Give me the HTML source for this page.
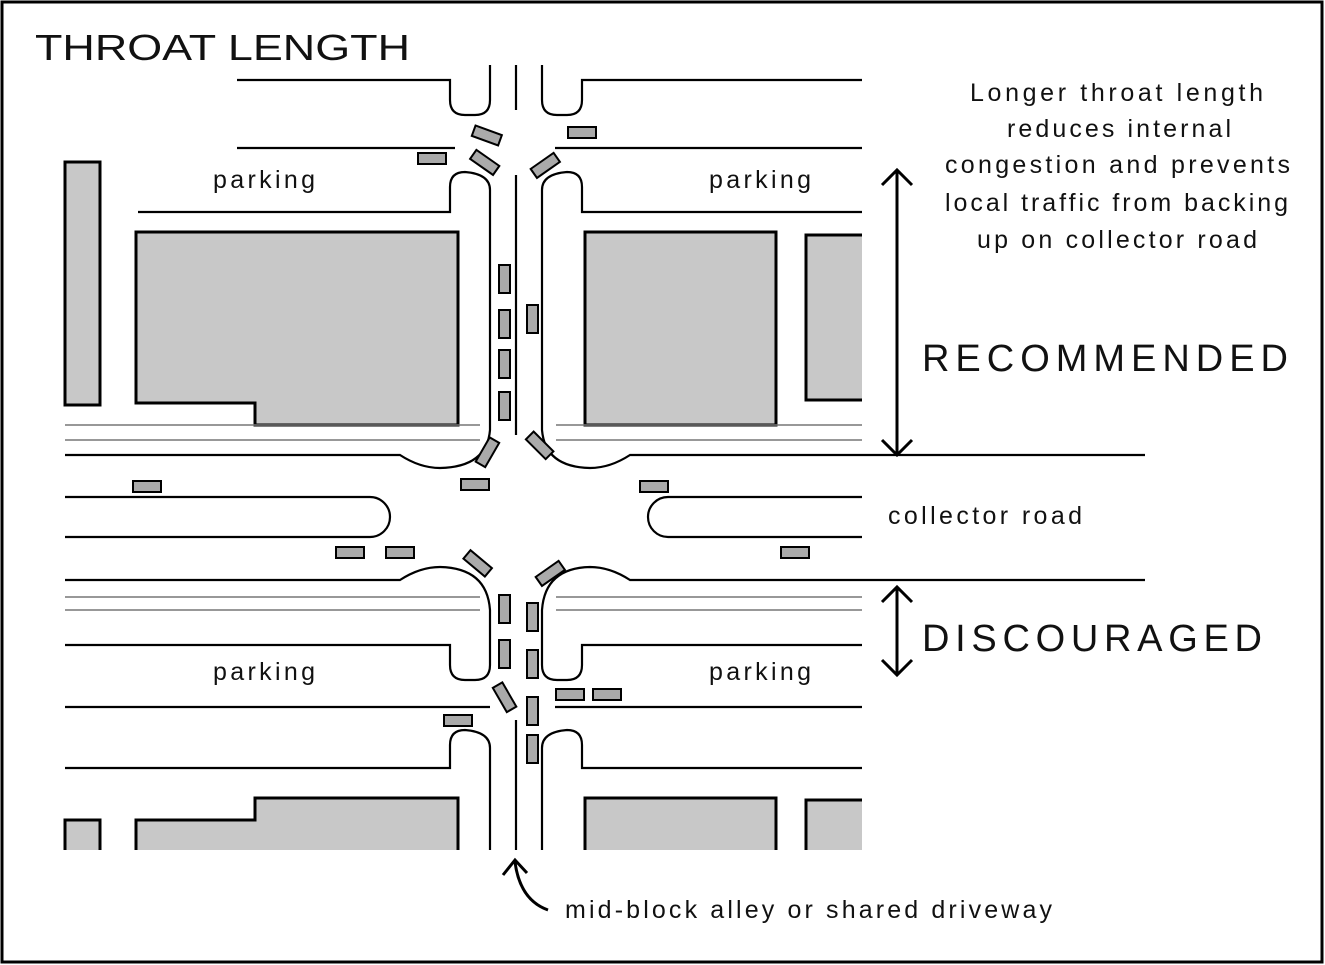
<!DOCTYPE html>
<html><head><style>
body{margin:0;background:#fff}
svg{display:block}
text{font-family:"Liberation Sans",sans-serif;fill:#111}
</style></head><body>
<svg width="1325" height="965" viewBox="0 0 1325 965">
<rect x="2" y="2" width="1320" height="960" fill="#fff" stroke="#000" stroke-width="3"/>
<text x="35" y="60" font-size="36" textLength="375" lengthAdjust="spacingAndGlyphs">THROAT LENGTH</text>

<rect x="806" y="800" width="56" height="50" fill="#c8c8c8"/>
<g fill="#c8c8c8" stroke="#000" stroke-width="3">
<rect x="65" y="162" width="35" height="243"/>
<path d="M136,232 H458 V425 H255 V403 H136 Z"/>
<rect x="585" y="232" width="191" height="193"/>
<path d="M862,235 H806 V400 H862"/>
<path d="M65,850 V820 H100 V850"/>
<path d="M136,850 V820 H255 V798 H458 V850"/>
<path d="M585,850 V798 H776 V850"/>
<path d="M806,850 V800 H862" fill="none"/>
</g>

<g fill="none" stroke="#000" stroke-width="2.2">
<path d="M237,80 H450 V100 Q450,115 465,115 H475 Q490,115 490,100 V65"/>
<path d="M862,80 H582 V100 Q582,115 567,115 H557 Q542,115 542,100 V65"/>
<path d="M516,65 V110 M516,175 V435 M516,720 V850"/>
<path d="M237,148 H455 M555,148 H862"/>
<path d="M138,212 H450 V187 Q450,172 465,172 Q490,174 490,190 V430 Q487,467 440,468 Q420,468 400,455 H65"/>
<path d="M862,212 H582 V187 Q582,172 567,172 Q542,174 542,190 V430 Q545,467 590,468 Q610,468 630,455 H1145"/>
<path d="M65,497 H370 A20,20 0 0 1 370,537 H65"/>
<path d="M862,497 H668 A20,20 0 0 0 668,537 H862"/>
<path d="M65,580 H400 Q420,567 440,567 Q487,568 490,610 V640"/>
<path d="M1145,580 H630 Q610,567 590,567 Q545,568 542,610 V640"/>
<path d="M65,645 H450 V665 Q450,680 465,680 H475 Q490,680 490,665 V640"/>
<path d="M862,645 H582 V665 Q582,680 567,680 H557 Q542,680 542,665 V640"/>
<path d="M65,707 H490 M555,707 H862"/>
<path d="M65,768 H450 V745 Q450,730 465,730 Q490,732 490,748 V850"/>
<path d="M862,768 H582 V745 Q582,730 567,730 Q542,732 542,748 V850"/>
</g>
<g stroke="#777" stroke-width="1.5">
<path d="M65,425 H480 M65,440 H480 M556,425 H862 M556,440 H862"/>
<path d="M65,597 H480 M65,610 H480 M556,597 H862 M556,610 H862"/>
</g>

<g fill="#aaa" stroke="#000" stroke-width="2">
<rect x="473" y="130" width="28" height="11" transform="rotate(20 487 135)"/>
<rect x="568" y="127" width="28" height="11"/>
<rect x="418" y="153" width="28" height="11"/>
<rect x="471" y="157" width="28" height="11" transform="rotate(35 485 162)"/>
<rect x="531" y="160" width="28" height="11" transform="rotate(-35 545 165)"/>
<rect x="499" y="265" width="11" height="28"/>
<rect x="499" y="310" width="11" height="28"/>
<rect x="499" y="350" width="11" height="28"/>
<rect x="499" y="392" width="11" height="28"/>
<rect x="527" y="305" width="11" height="28"/>
<rect x="473" y="447" width="28" height="11" transform="rotate(-60 487 452)"/>
<rect x="526" y="440" width="28" height="11" transform="rotate(45 540 445)"/>
<rect x="133" y="481" width="28" height="11"/>
<rect x="461" y="479" width="28" height="11"/>
<rect x="640" y="481" width="28" height="11"/>
<rect x="336" y="547" width="28" height="11"/>
<rect x="386" y="547" width="28" height="11"/>
<rect x="781" y="547" width="28" height="11"/>
<rect x="464" y="558" width="28" height="11" transform="rotate(40 478 563)"/>
<rect x="536" y="568" width="28" height="11" transform="rotate(-35 550 573)"/>
<rect x="499" y="595" width="11" height="28"/>
<rect x="499" y="640" width="11" height="28"/>
<rect x="527" y="603" width="11" height="28"/>
<rect x="527" y="650" width="11" height="28"/>
<rect x="491" y="692" width="28" height="11" transform="rotate(60 505 697)"/>
<rect x="527" y="697" width="11" height="28"/>
<rect x="527" y="735" width="11" height="28"/>
<rect x="556" y="689" width="28" height="11"/>
<rect x="593" y="689" width="28" height="11"/>
<rect x="444" y="715" width="28" height="11"/>
</g>

<g font-size="25">
<text x="213" y="188" textLength="102">parking</text>
<text x="709" y="188" textLength="102">parking</text>
<text x="213" y="680" textLength="102">parking</text>
<text x="709" y="680" textLength="102">parking</text>
<text x="888" y="524" textLength="194">collector road</text>
<text x="970" y="101" textLength="293">Longer throat length</text>
<text x="1007" y="137" textLength="224">reduces internal</text>
<text x="945" y="173" textLength="345">congestion and prevents</text>
<text x="945" y="211" textLength="343">local traffic from backing</text>
<text x="977" y="248" textLength="280">up on collector road</text>
<text x="565" y="918" textLength="487">mid-block alley or shared driveway</text>
</g>
<text x="922" y="371" font-size="38" textLength="366">RECOMMENDED</text>
<text x="922" y="651" font-size="38" textLength="340">DISCOURAGED</text>

<g fill="none" stroke="#000" stroke-width="3">
<path d="M897,170 V455 M882,185 L897,170 L912,185 M882,440 L897,455 L912,440"/>
<path d="M897,587 V675 M882,602 L897,587 L912,602 M882,660 L897,675 L912,660"/>
<path d="M548,910 Q520,900 515,862 M503,875 L515,860 L527,873"/>
</g>
</svg>
</body></html>
